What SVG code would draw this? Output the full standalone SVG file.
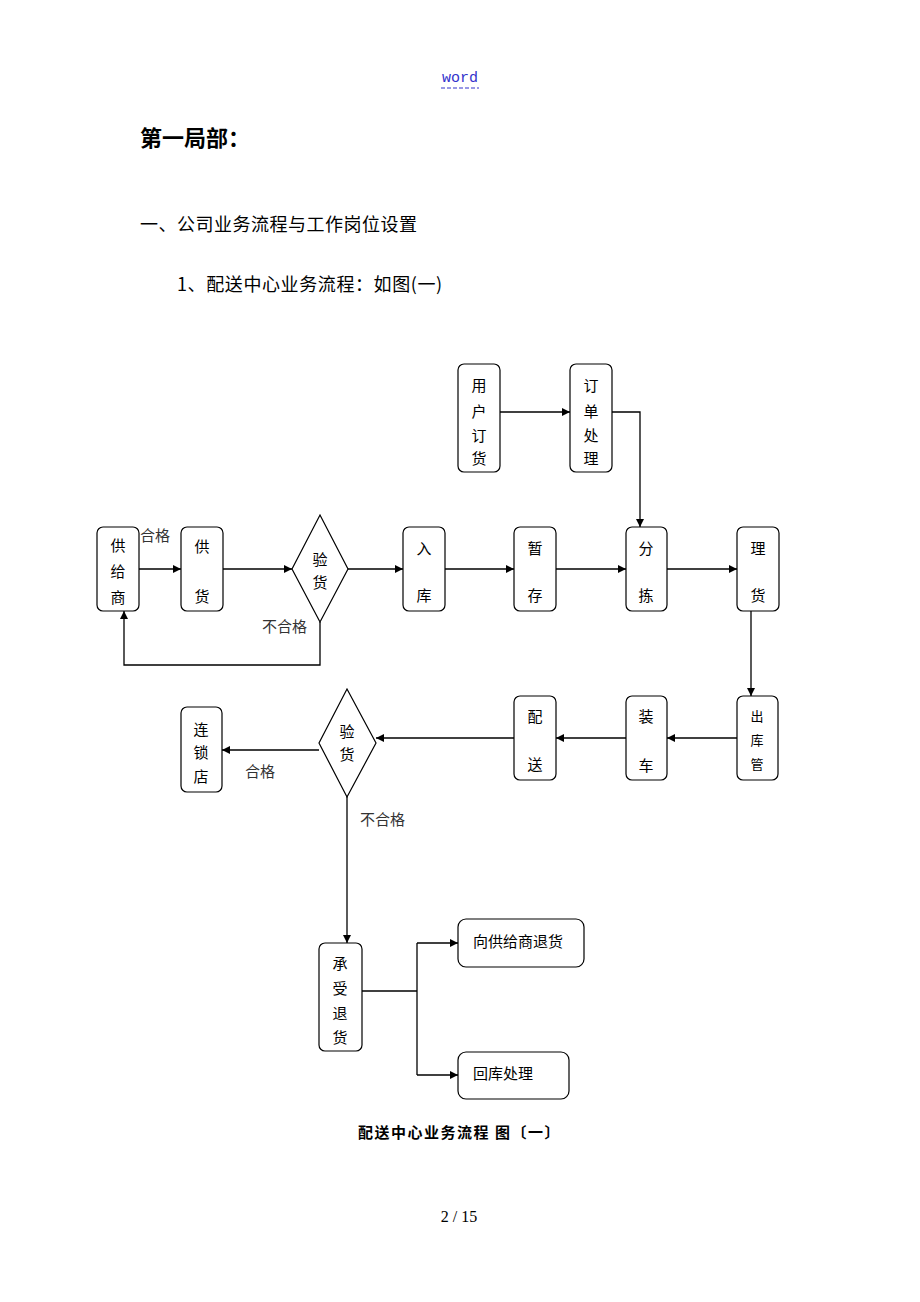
<svg xmlns="http://www.w3.org/2000/svg" width="920" height="1302" viewBox="0 0 920 1302">
<style>
.box{fill:#fff;stroke:#000;stroke-width:1.2}
.t{font-family:"Noto Sans CJK SC",sans-serif;font-size:15px;fill:#000;text-anchor:middle;dominant-baseline:central}
.tl{font-family:"Noto Sans CJK SC",sans-serif;font-size:15px;fill:#000;text-anchor:start;dominant-baseline:central}
.ts{font-family:"Noto Sans CJK SC",sans-serif;font-size:13px;fill:#000;text-anchor:middle;dominant-baseline:central}
.lbl{font-family:"Noto Sans CJK SC",sans-serif;font-size:15px;fill:#333;dominant-baseline:central}
.c{fill:none;stroke:#000;stroke-width:1.3}
.h{font-family:"Noto Sans CJK SC",sans-serif;font-size:18px;fill:#000;dominant-baseline:central}
</style>
<defs>
<marker id="a" viewBox="0 0 10 10" refX="10" refY="5" markerWidth="8" markerHeight="8" markerUnits="userSpaceOnUse" orient="auto"><path d="M0,0 L10,5 L0,10 z" fill="#000"/></marker>
</defs>
<rect width="920" height="1302" fill="#fff"/>
<text x="460" y="78" font-family="Liberation Mono,monospace" font-size="15" fill="#3333cc" text-anchor="middle" dominant-baseline="central">word</text>
<line x1="441" y1="88" x2="479" y2="88" stroke="#3333cc" stroke-width="1" stroke-dasharray="4,2"/>
<text x="140" y="136" font-family="Noto Sans CJK SC,sans-serif" font-size="22" font-weight="bold" dominant-baseline="central">第一局部：</text>
<text class="h" x="140" y="223" letter-spacing="0.5">一、公司业务流程与工作岗位设置</text>
<text class="h" x="177" y="283" letter-spacing="0.6">1、配送中心业务流程：如图(一)</text>

<g id="connectors">
<line class="c" x1="500" y1="412" x2="570" y2="412" marker-end="url(#a)"/>
<polyline class="c" points="612,412 640,412 640,527" marker-end="url(#a)"/>
<line class="c" x1="139" y1="569" x2="181" y2="569" marker-end="url(#a)"/>
<line class="c" x1="223" y1="569" x2="292" y2="569" marker-end="url(#a)"/>
<line class="c" x1="348" y1="569" x2="403" y2="569" marker-end="url(#a)"/>
<line class="c" x1="445" y1="569" x2="514" y2="569" marker-end="url(#a)"/>
<line class="c" x1="556" y1="569" x2="626" y2="569" marker-end="url(#a)"/>
<line class="c" x1="667" y1="569" x2="737" y2="569" marker-end="url(#a)"/>
<polyline class="c" points="320,622 320,665 124,665 124,611" marker-end="url(#a)"/>
<line class="c" x1="751" y1="603" x2="751" y2="696" marker-end="url(#a)"/>
<line class="c" x1="737" y1="738" x2="667" y2="738" marker-end="url(#a)"/>
<line class="c" x1="626" y1="738" x2="556" y2="738" marker-end="url(#a)"/>
<line class="c" x1="514" y1="738" x2="376" y2="738" marker-end="url(#a)"/>
<line class="c" x1="319" y1="750" x2="222" y2="750" marker-end="url(#a)"/>
<line class="c" x1="347" y1="790" x2="347" y2="943" marker-end="url(#a)"/>
<line class="c" x1="362" y1="991" x2="417" y2="991"/>
<line class="c" x1="417" y1="943" x2="417" y2="1075"/>
<line class="c" x1="417" y1="943" x2="458" y2="943" marker-end="url(#a)"/>
<line class="c" x1="417" y1="1075" x2="458" y2="1075" marker-end="url(#a)"/>
<text class="lbl" x="140" y="534">合格</text>
<text class="lbl" x="262" y="625">不合格</text>
<text class="lbl" x="245" y="770">合格</text>
<text class="lbl" x="360" y="818">不合格</text>
</g>

<g id="n-yonghu"><rect class="box" x="458" y="364" width="42" height="108" rx="6"/><text class="t" x="479" y="384">用</text><text class="t" x="479" y="410">户</text><text class="t" x="479" y="434">订</text><text class="t" x="479" y="457">货</text></g>
<g id="n-dingdan"><rect class="box" x="570" y="364" width="42" height="108" rx="6"/><text class="t" x="591" y="384">订</text><text class="t" x="591" y="410">单</text><text class="t" x="591" y="434">处</text><text class="t" x="591" y="457">理</text></g>
<g id="n-gongjishang"><rect class="box" x="97" y="527" width="42" height="84" rx="6"/><text class="t" x="118" y="544">供</text><text class="t" x="118" y="570">给</text><text class="t" x="118" y="596">商</text></g>
<g id="n-gonghuo"><rect class="box" x="181" y="527" width="42" height="84" rx="6"/><text class="t" x="202" y="545">供</text><text class="t" x="202" y="595">货</text></g>
<g id="n-yanhuo1"><polygon class="box" points="320,515 348,569 320,622 292,569"/><text class="t" x="320" y="558">验</text><text class="t" x="320" y="581">货</text></g>
<g id="n-ruku"><rect class="box" x="403" y="527" width="42" height="84" rx="6"/><text class="t" x="424" y="547">入</text><text class="t" x="424" y="594">库</text></g>
<g id="n-zancun"><rect class="box" x="514" y="527" width="42" height="84" rx="6"/><text class="t" x="535" y="547">暂</text><text class="t" x="535" y="594">存</text></g>
<g id="n-fenjian"><rect class="box" x="626" y="527" width="41" height="84" rx="6"/><text class="t" x="646" y="547">分</text><text class="t" x="646" y="594">拣</text></g>
<g id="n-lihuo"><rect class="box" x="737" y="527" width="42" height="84" rx="6"/><text class="t" x="758" y="547">理</text><text class="t" x="758" y="594">货</text></g>
<g id="n-chukuguan"><rect class="box" x="737" y="696" width="41" height="84" rx="6"/><text class="ts" x="757" y="715">出</text><text class="ts" x="757" y="739">库</text><text class="ts" x="757" y="763">管</text></g>
<g id="n-zhuangche"><rect class="box" x="626" y="696" width="41" height="84" rx="6"/><text class="t" x="646" y="715">装</text><text class="t" x="646" y="764">车</text></g>
<g id="n-peisong"><rect class="box" x="514" y="696" width="42" height="84" rx="6"/><text class="t" x="535" y="715">配</text><text class="t" x="535" y="763">送</text></g>
<g id="n-yanhuo2"><polygon class="box" points="347,689 376,743 347,797 319,743"/><text class="t" x="347" y="730">验</text><text class="t" x="347" y="753">货</text></g>
<g id="n-liansuodian"><rect class="box" x="181" y="707" width="41" height="85" rx="6"/><text class="t" x="201" y="728">连</text><text class="t" x="201" y="751">锁</text><text class="t" x="201" y="775">店</text></g>
<g id="n-chengshou"><rect class="box" x="319" y="943" width="43" height="108" rx="6"/><text class="t" x="340" y="962">承</text><text class="t" x="340" y="987">受</text><text class="t" x="340" y="1012">退</text><text class="t" x="340" y="1036">货</text></g>
<g id="n-xianggong"><rect class="box" x="458" y="919" width="126" height="48" rx="8"/><text class="tl" x="473" y="940">向供给商退货</text></g>
<g id="n-huiku"><rect class="box" x="458" y="1052" width="111" height="47" rx="8"/><text class="tl" x="473" y="1072">回库处理</text></g>

<text x="358" y="1131" font-family="Noto Sans CJK SC,sans-serif" font-size="15" font-weight="bold" letter-spacing="1.5" dominant-baseline="central">配送中心业务流程 图〔一〕</text>
<text x="459" y="1216" font-family="Liberation Serif,serif" font-size="16" text-anchor="middle" dominant-baseline="central">2 / 15</text>
</svg>
